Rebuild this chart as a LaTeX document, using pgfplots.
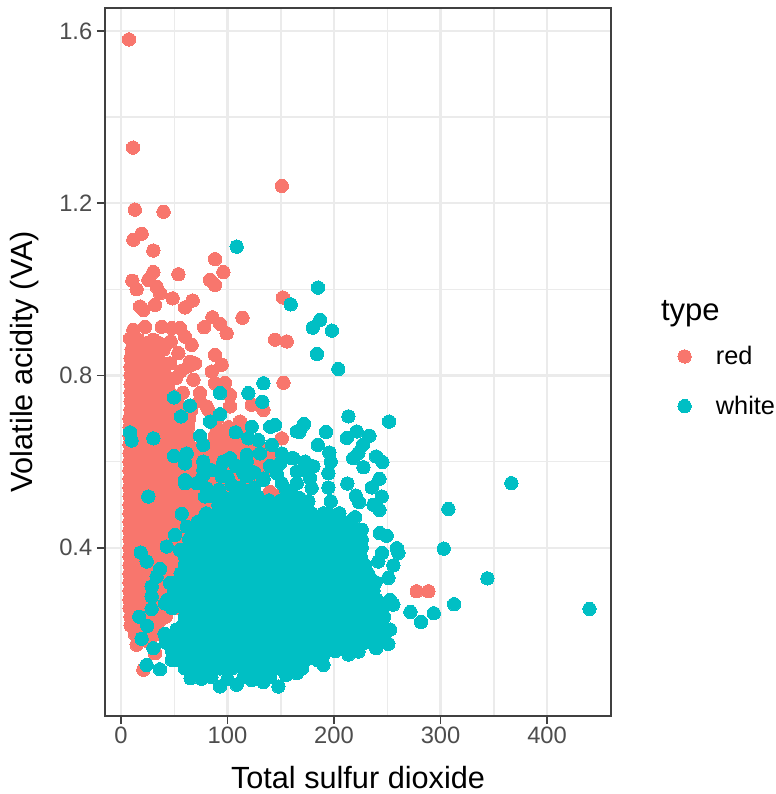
\documentclass[border=0pt]{standalone}
\usepackage{pgfplots}
\usepackage{fontspec}
\setmainfont{Liberation Sans}
\pgfplotsset{compat=1.18}
\definecolor{cred}{HTML}{F8766D}
\definecolor{cwhite}{HTML}{00BFC4}
\definecolor{gridc}{HTML}{EBEBEB}
\definecolor{borderc}{HTML}{404040}
\definecolor{tickc}{HTML}{4D4D4D}
\begin{document}
\begin{tikzpicture}
\useasboundingbox (-78.75pt,-58.5pt) rectangle (503.25pt,537pt);
\begin{axis}[
  at={(0,0)}, anchor=south west,
  scale only axis, width=379.5pt, height=531pt,
  xmin=-15, xmax=460, ymin=0.0095, ymax=1.653,
  xtick={0,100,200,300,400}, ytick={0.4,0.8,1.2,1.6},
  yticklabels={0.4,0.8,1.2,1.6},
  minor tick num=1,
  minor tick length=0pt, major tick length=6pt,
  tick align=outside, tick pos=left,
  xmajorgrids, ymajorgrids, xminorgrids, yminorgrids,
  major grid style={gridc,line width=1.9pt},
  minor grid style={gridc,line width=1.1pt},
  axis line style={borderc,line width=1.2pt},
  tick style={borderc,line width=1.3pt},
  /pgf/number format/assume math mode=true,
  tick label style={font=\fontsize{17.8}{20}\selectfont,text=tickc},
  xticklabel style={yshift=1pt},
  yticklabel style={xshift=0pt},
  xlabel={Total sulfur dioxide}, ylabel={Volatile acidity (VA)},
  label style={font=\fontsize{23}{26}\selectfont},
  xlabel style={at={(axis description cs:0.5,0)},anchor=center,yshift=-46pt},
  ylabel style={at={(axis description cs:0,0.5)},anchor=center,yshift=60pt},
  clip=true, clip mode=individual,
  legend style={at={(rel axis cs:1,0.5)},anchor=north west,draw=none,fill=none,
    xshift=50pt,yshift=12pt,inner sep=0pt,
    font=\fontsize{19}{22}\selectfont,row sep=22pt,
    /tikz/column 1/.style={column sep=18.5pt},
    nodes={inner sep=0pt,anchor=west}},
  legend cell align=left,
]
\addplot[only marks,mark=*,mark size=5pt,mark options={draw=cred,fill=cred,line width=0pt}] coordinates {
(7.5,1.58)(11.3,1.329)(151,1.24)(13,1.185)(40,1.18)(11.6,1.115)(19.4,1.129)(30.4,1.09)(88.3,1.07)(96.1,1.04)(83.6,1.022)(88.3,1.01)(53.9,1.035)(30.4,1.04)(25.7,1.022)(10.7,1.02)(14.7,1.0)(33.5,1.006)(36.6,.991)(32,.964)(48.5,.979)(67.3,.974)(60.1,.958)(17.9,.96)(21,.952)(114,.934)(152,.981)(144.6,.883)(155.6,.879)(152.5,.783)
(85.8,.935)(78,.912)(93,.92)(99.2,.898)(22.6,.913)(38.2,.913)(47.6,.91)(55.4,.91)(11.6,.906)(8.5,.886)(16.3,.883)(30.4,.883)(46.7,.879)(60.1,.89)(66.4,.871)(88.3,.848)(94.5,.825)(85.2,.809)(64.8,.832)(69.5,.828)(63.2,.821)(53.9,.852)(46,.828)(97.7,.783)(88.3,.782)(68,.79)(51.7,.794)(44.5,.782)(102.4,.755)(102.4,.728)(74.2,.759)(80.5,.728)(122.7,.732)(133.7,.72)(151,.654)(111.8,.693)
(21,.117)(14.7,.175)(32,.155)(277.6,.299)(288.6,.299)
(16,.18)(27,.18)(13,.20)(24,.20)(34,.20)(9,.22)(20,.22)(31,.22)(9,.24)(20,.24)(31,.24)(42,.24)
(8,.26)(19,.26)(30,.26)(41,.26)(52,.26)(8,.28)(19,.28)(30,.28)(41,.28)(52,.28)(63,.28)
(8,.30)(19,.30)(30,.30)(41,.30)(52,.30)(63,.30)(8,.32)(19,.32)(30,.32)(41,.32)(52,.32)(63,.32)
(8,.34)(19,.34)(30,.34)(41,.34)(52,.34)(63,.34)(8,.36)(19,.36)(30,.36)(41,.36)(52,.36)(63,.36)
(8,.38)(19,.38)(30,.38)(41,.38)(52,.38)(63,.38)(8,.40)(19,.40)(30,.40)(41,.40)(52,.40)(63,.40)
(8,.42)(19,.42)(30,.42)(41,.42)(52,.42)(63,.42)(8,.44)(19,.44)(30,.44)(41,.44)(52,.44)(63,.44)(74,.44)
(8,.46)(19,.46)(30,.46)(41,.46)(52,.46)(63,.46)(74,.46)(8,.48)(19,.48)(30,.48)(41,.48)(52,.48)(63,.48)(74,.48)(85,.48)
(8,.50)(19,.50)(30,.50)(41,.50)(52,.50)(63,.50)(74,.50)(85,.50)(96,.50)(108,.49)
(8,.52)(19,.52)(30,.52)(41,.52)(52,.52)(63,.52)(74,.52)(85,.52)(96,.52)(140,.53)(146,.52)
(8,.54)(19,.54)(30,.54)(41,.54)(52,.54)(63,.54)(74,.54)(85,.54)(96,.54)(107,.54)(118,.54)
(8,.56)(19,.56)(30,.56)(41,.56)(52,.56)(63,.56)(74,.56)(85,.56)(96,.56)(107,.56)(118,.56)(130,.56)
(8,.58)(19,.58)(30,.58)(41,.58)(52,.58)(63,.58)(74,.58)(85,.58)(96,.58)(107,.58)(118,.58)(129,.58)(140,.58)
(8,.60)(19,.60)(30,.60)(41,.60)(52,.60)(63,.60)(74,.60)(85,.60)(96,.60)(107,.60)(118,.60)(129,.60)(140,.60)(148,.60)
(8,.62)(19,.62)(30,.62)(41,.62)(52,.62)(63,.62)(74,.62)(85,.62)(96,.62)(107,.62)(118,.62)(129,.62)(140,.62)
(8,.64)(19,.64)(30,.64)(41,.64)(52,.64)(63,.64)(85,.64)(96,.64)(107,.64)(118,.64)(129,.64)
(8,.66)(19,.66)(30,.66)(41,.66)(52,.66)(63,.66)(88,.66)(99,.66)(110,.66)(118,.67)
(8,.68)(19,.68)(30,.68)(41,.68)(52,.68)(63,.68)(90,.68)(101,.68)(112,.68)
(8,.70)(19,.70)(30,.70)(41,.70)(52,.70)(64,.70)(90,.70)
(9,.72)(20,.72)(31,.72)(42,.72)(53,.72)(66,.72)(82,.72)
(9,.74)(20,.74)(31,.74)(42,.74)(53,.74)(74,.74)
(9,.76)(20,.76)(31,.76)(46,.76)(58,.76)
(9,.78)(20,.78)(31,.78)(40,.77)
(9,.80)(20,.80)(31,.80)(42,.80)(56,.81)
(9,.82)(20,.82)(31,.82)(38,.83)
(9,.84)(20,.84)(31,.84)(10,.86)(20,.86)(30,.86)(40,.86)(24,.875)(36,.875)
(14,.23)(25,.23)(36,.23)(14,.25)(25,.25)(36,.25)(13,.27)(24,.27)(35,.27)(46,.27)
(13,.29)(24,.29)(35,.29)(46,.29)(57,.29)(13,.31)(24,.31)(35,.31)(46,.31)(57,.31)
(13,.33)(24,.33)(35,.33)(46,.33)(57,.33)(13,.35)(24,.35)(35,.35)(46,.35)(57,.35)
(13,.37)(24,.37)(35,.37)(46,.37)(57,.37)(13,.39)(24,.39)(35,.39)(46,.39)(57,.39)
(13,.41)(24,.41)(35,.41)(46,.41)(57,.41)(13,.43)(24,.43)(35,.43)(46,.43)(57,.43)
(13,.45)(24,.45)(35,.45)(46,.45)(57,.45)(68,.45)(13,.47)(24,.47)(35,.47)(46,.47)(57,.47)(68,.47)
(13,.49)(24,.49)(35,.49)(46,.49)(57,.49)(68,.49)(79,.49)(13,.51)(24,.51)(35,.51)(46,.51)(57,.51)(68,.51)(79,.51)(90,.51)
(13,.53)(24,.53)(35,.53)(46,.53)(57,.53)(68,.53)(79,.53)(90,.53)(101,.53)
(13,.55)(24,.55)(35,.55)(46,.55)(57,.55)(68,.55)(79,.55)(90,.55)(101,.55)(112,.55)
(13,.57)(24,.57)(35,.57)(46,.57)(57,.57)(68,.57)(79,.57)(90,.57)(101,.57)(112,.57)(123,.57)
(13,.59)(24,.59)(35,.59)(46,.59)(57,.59)(68,.59)(79,.59)(90,.59)(101,.59)(112,.59)(123,.59)(134,.59)
(13,.61)(24,.61)(35,.61)(46,.61)(57,.61)(68,.61)(79,.61)(90,.61)(101,.61)(112,.61)(123,.61)(134,.61)
(13,.63)(24,.63)(35,.63)(46,.63)(57,.63)(68,.63)(90,.63)(101,.63)(112,.63)(123,.63)
(13,.65)(24,.65)(35,.65)(46,.65)(57,.65)(93,.65)(104,.65)(115,.65)
(13,.67)(24,.67)(35,.67)(46,.67)(57,.67)(95,.67)(106,.67)
(13,.69)(24,.69)(35,.69)(46,.69)(57,.69)
(14,.71)(25,.71)(36,.71)(47,.71)(58,.71)(14,.73)(25,.73)(36,.73)(47,.73)
(14,.75)(25,.75)(36,.75)(14,.77)(25,.77)(14,.79)(25,.79)(36,.79)
(14,.81)(25,.81)(36,.81)(14,.83)(25,.83)(14,.85)(25,.85)
};
\addlegendentry{red}
\addplot[only marks,mark=*,mark size=5pt,mark options={draw=cwhite,fill=cwhite,line width=0pt}] coordinates {
(108.6,1.099)(159.3,.965)(185,1.004)(187,.929)(180,.911)(198,.904)(184,.85)(204,.815)(133.7,.782)(132.7,.739)(119.6,.759)(93,.759)(49.8,.749)(64.8,.73)(56.4,.705)(83.6,.693)(93,.71)(8.5,.668)(10,.649)(30.4,.654)(74.2,.66)(77.3,.639)(107.7,.668)(122.7,.681)(140,.681)(144.6,.685)(165,.67)(119.6,.654)(129,.65)(141.5,.639)(130.5,.619)(150.9,.619)(160.3,.608)(49.8,.613)(61.7,.619)(60.1,.596)(77.3,.6)(118,.616)(118,.6)(102.4,.608)(96.1,.6)(93,.581)(77.3,.581)(114.9,.573)(133.7,.561)(149.3,.596)(146.2,.573)(165,.577)(60.1,.557)
(25.7,.519)(57,.479)(60.1,.55)(71,.55)(77.3,.569)(80.5,.538)(78.9,.519)(91.4,.5)(94.5,.566)(103.9,.546)(118,.566)(133.7,.558)(150.9,.55)(50.7,.43)(42.9,.403)(55.4,.395)(18.5,.389)(24.1,.368)(36.6,.351)(33.5,.333)(46,.318)(28.8,.31)(28.8,.287)(28.8,.258)(41.3,.271)(17.2,.24)(24.7,.219)(19.4,.189)(30.4,.167)(24.1,.128)(36.6,.118)(47.6,.14)(65.4,.097)(75.8,.096)(93,.078)(108.6,.082)(133.7,.088)(147.8,.078)(122.7,.093)(61.7,.449)
(213.5,.705)(251.7,.693)(171.8,.687)(167.5,.669)(192.5,.669)(212,.655)(221.3,.670)(233.2,.66)(227,.639)(184.7,.639)(195.6,.621)(222.9,.62)(218,.608)(239.5,.612)(245.4,.599)(227.6,.587)(161.8,.608)(172.8,.6)(196.9,.6)(180.6,.589)(169.7,.581)(194.7,.573)(177.5,.562)(165,.55)(242.6,.56)(235.4,.54)(212.5,.549)(179,.539)(194.7,.54)(244.8,.519)(220.4,.521)(223.5,.506)(196.9,.508)(176,.508)(237,.5)(242.6,.488)(168,.515)(160,.512)(205,.479)(194.7,.479)(182.2,.473)(219.7,.471)(171,.473)(226,.442)(243,.434)(249.5,.428)
(259,.399)(260.4,.388)(245,.388)(255.7,.359)(241.6,.368)(251,.33)(252.6,.279)(255.7,.268)(252.6,.21)(251,.177)(239.5,.167)(223,.159)(213.5,.152)(190,.128)(165,.109)
(366.5,.55)(307.4,.49)(303,.398)(344,.329)(312.7,.269)(439.8,.258)(271.7,.251)(281.7,.228)(293.6,.248)
(85,.10)(100,.095)(115,.10)(128,.10)(140,.10)(155,.105)
(60,.12)(71,.12)(82,.12)(93,.12)(104,.12)(115,.12)(126,.12)(137,.12)(148,.12)(159,.12)(170,.12)
(52,.14)(63,.14)(74,.14)(85,.14)(96,.14)(107,.14)(118,.14)(129,.14)(140,.14)(151,.14)(162,.14)(173,.14)(184,.14)
(48,.16)(58,.16)(69,.16)(80,.16)(91,.16)(102,.16)(113,.16)(124,.16)(135,.16)(146,.16)(157,.16)(168,.16)(179,.16)(190,.16)(201,.16)(212,.16)
(42,.18)(53,.18)(64,.18)(75,.18)(86,.18)(97,.18)(108,.18)(119,.18)(130,.18)(141,.18)(152,.18)(163,.18)(174,.18)(185,.18)(196,.18)(207,.18)(218,.18)(229,.18)(240,.18)
(41,.20)(52,.20)(63,.20)(74,.20)(85,.20)(96,.20)(107,.20)(118,.20)(129,.20)(140,.20)(151,.20)(162,.20)(173,.20)(184,.20)(195,.20)(206,.20)(217,.20)(228,.20)(239,.20)(247,.20)
(58,.22)(69,.22)(80,.22)(91,.22)(102,.22)(113,.22)(124,.22)(135,.22)(146,.22)(157,.22)(168,.22)(179,.22)(190,.22)(201,.22)(212,.22)(223,.22)(234,.22)(245,.22)
(60,.24)(71,.24)(82,.24)(93,.24)(104,.24)(115,.24)(126,.24)(137,.24)(148,.24)(159,.24)(170,.24)(181,.24)(192,.24)(203,.24)(214,.24)(225,.24)(236,.24)(247,.24)
(48,.26)(59,.26)(70,.26)(81,.26)(92,.26)(103,.26)(114,.26)(125,.26)(136,.26)(147,.26)(158,.26)(169,.26)(180,.26)(191,.26)(202,.26)(213,.26)(224,.26)(235,.26)(246,.26)
(44,.28)(55,.28)(66,.28)(77,.28)(88,.28)(99,.28)(110,.28)(121,.28)(132,.28)(143,.28)(154,.28)(165,.28)(176,.28)(187,.28)(198,.28)(209,.28)(220,.28)(231,.28)(240,.28)
(50,.30)(61,.30)(72,.30)(83,.30)(94,.30)(105,.30)(116,.30)(127,.30)(138,.30)(149,.30)(160,.30)(171,.30)(182,.30)(193,.30)(204,.30)(215,.30)(226,.30)(237,.30)
(52,.32)(63,.32)(74,.32)(85,.32)(96,.32)(107,.32)(118,.32)(129,.32)(140,.32)(151,.32)(162,.32)(173,.32)(184,.32)(195,.32)(206,.32)(217,.32)(228,.32)(239,.32)
(56,.34)(67,.34)(78,.34)(89,.34)(100,.34)(111,.34)(122,.34)(133,.34)(144,.34)(155,.34)(166,.34)(177,.34)(188,.34)(199,.34)(210,.34)(221,.34)(232,.34)
(60,.36)(71,.36)(82,.36)(93,.36)(104,.36)(115,.36)(126,.36)(137,.36)(148,.36)(159,.36)(170,.36)(181,.36)(192,.36)(203,.36)(214,.36)(225,.36)(229,.36)
(60,.38)(71,.38)(82,.38)(93,.38)(104,.38)(115,.38)(126,.38)(137,.38)(148,.38)(159,.38)(170,.38)(181,.38)(192,.38)(203,.38)(214,.38)(225,.38)
(62,.40)(73,.40)(84,.40)(95,.40)(106,.40)(117,.40)(128,.40)(139,.40)(150,.40)(161,.40)(172,.40)(183,.40)(194,.40)(205,.40)(216,.40)(226,.40)
(64,.42)(75,.42)(86,.42)(97,.42)(108,.42)(119,.42)(130,.42)(141,.42)(152,.42)(163,.42)(174,.42)(185,.42)(196,.42)(207,.42)(218,.42)(226,.42)
(66,.44)(77,.44)(88,.44)(99,.44)(110,.44)(121,.44)(132,.44)(143,.44)(154,.44)(165,.44)(176,.44)(187,.44)(198,.44)(209,.44)(220,.44)
(72,.46)(83,.46)(94,.46)(105,.46)(116,.46)(127,.46)(138,.46)(149,.46)(160,.46)(171,.46)(182,.46)(193,.46)(204,.46)(215,.46)
(80,.48)(91,.48)(102,.48)(113,.48)(124,.48)(135,.48)(146,.48)(157,.48)(168,.48)(179,.48)(190,.48)(205,.48)
(92,.50)(103,.50)(114,.50)(125,.50)(136,.50)(147,.50)(158,.50)(169,.50)
(84,.52)(95,.52)(106,.52)(117,.52)(128,.52)(139,.51)(150,.51)(160,.53)
(92,.535)(112,.54)(125,.54)(155,.535)(100,.565)(85,.58)(125,.575)(108,.59)(140,.59)
(66,.13)(77,.13)(88,.13)(99,.13)(110,.13)(121,.13)(132,.13)(143,.13)(154,.13)(165,.13)
(58,.15)(69,.15)(80,.15)(91,.15)(102,.15)(113,.15)(124,.15)(135,.15)(146,.15)(157,.15)(168,.15)(179,.15)(190,.15)
(53,.17)(64,.17)(75,.17)(86,.17)(97,.17)(108,.17)(119,.17)(130,.17)(141,.17)(152,.17)(163,.17)(174,.17)(185,.17)(196,.17)(207,.17)
(47,.19)(58,.19)(69,.19)(80,.19)(91,.19)(102,.19)(113,.19)(124,.19)(135,.19)(146,.19)(157,.19)(168,.19)(179,.19)(190,.19)(201,.19)(212,.19)(223,.19)(234,.19)
(52,.21)(63,.21)(74,.21)(85,.21)(96,.21)(107,.21)(118,.21)(129,.21)(140,.21)(151,.21)(162,.21)(173,.21)(184,.21)(195,.21)(206,.21)(217,.21)(228,.21)(239,.21)
(64,.23)(75,.23)(86,.23)(97,.23)(108,.23)(119,.23)(130,.23)(141,.23)(152,.23)(163,.23)(174,.23)(185,.23)(196,.23)(207,.23)(218,.23)(229,.23)(240,.23)
(65,.25)(76,.25)(87,.25)(98,.25)(109,.25)(120,.25)(131,.25)(142,.25)(153,.25)(164,.25)(175,.25)(186,.25)(197,.25)(208,.25)(219,.25)(230,.25)(241,.25)
(53,.27)(64,.27)(75,.27)(86,.27)(97,.27)(108,.27)(119,.27)(130,.27)(141,.27)(152,.27)(163,.27)(174,.27)(185,.27)(196,.27)(207,.27)(218,.27)(229,.27)(240,.27)
(49,.29)(60,.29)(71,.29)(82,.29)(93,.29)(104,.29)(115,.29)(126,.29)(137,.29)(148,.29)(159,.29)(170,.29)(181,.29)(192,.29)(203,.29)(214,.29)(225,.29)(236,.29)
(55,.31)(66,.31)(77,.31)(88,.31)(99,.31)(110,.31)(121,.31)(132,.31)(143,.31)(154,.31)(165,.31)(176,.31)(187,.31)(198,.31)(209,.31)(220,.31)(231,.31)
(58,.33)(69,.33)(80,.33)(91,.33)(102,.33)(113,.33)(124,.33)(135,.33)(146,.33)(157,.33)(168,.33)(179,.33)(190,.33)(201,.33)(212,.33)(223,.33)(234,.33)
(62,.35)(73,.35)(84,.35)(95,.35)(106,.35)(117,.35)(128,.35)(139,.35)(150,.35)(161,.35)(172,.35)(183,.35)(194,.35)(205,.35)(216,.35)(227,.35)
(66,.37)(77,.37)(88,.37)(99,.37)(110,.37)(121,.37)(132,.37)(143,.37)(154,.37)(165,.37)(176,.37)(187,.37)(198,.37)(209,.37)(220,.37)
(66,.39)(77,.39)(88,.39)(99,.39)(110,.39)(121,.39)(132,.39)(143,.39)(154,.39)(165,.39)(176,.39)(187,.39)(198,.39)(209,.39)(220,.39)
(68,.41)(79,.41)(90,.41)(101,.41)(112,.41)(123,.41)(134,.41)(145,.41)(156,.41)(167,.41)(178,.41)(189,.41)(200,.41)(211,.41)(222,.41)
(70,.43)(81,.43)(92,.43)(103,.43)(114,.43)(125,.43)(136,.43)(147,.43)(158,.43)(169,.43)(180,.43)(191,.43)(202,.43)(213,.43)(224,.43)
(72,.45)(83,.45)(94,.45)(105,.45)(116,.45)(127,.45)(138,.45)(149,.45)(160,.45)(171,.45)(182,.45)(193,.45)(204,.45)(215,.45)
(78,.47)(89,.47)(100,.47)(111,.47)(122,.47)(133,.47)(144,.47)(155,.47)(166,.47)(177,.47)(188,.47)(199,.47)
(97,.49)(108,.49)(119,.49)(130,.49)(141,.49)(152,.49)(163,.49)(174,.49)
(100,.51)(111,.51)(122,.51)
};
\addlegendentry{white}
\node[anchor=base west,font=\fontsize{23.3}{26}\selectfont] at (rel axis cs:1,0.5) [xshift=34pt,yshift=31pt] {type};
\end{axis}
\end{tikzpicture}
\end{document}
